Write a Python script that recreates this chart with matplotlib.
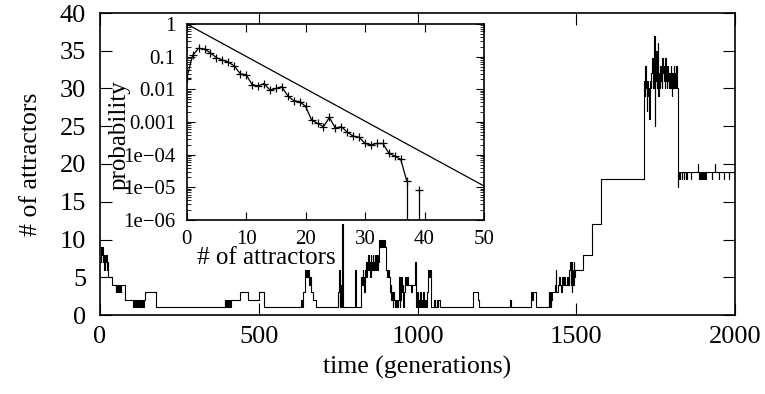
import numpy as np
import matplotlib
matplotlib.use("Agg")
import matplotlib.pyplot as plt
from matplotlib.ticker import LogLocator, NullFormatter, FixedLocator

# ---------------- data ----------------
# time series: change points (generation) and number of attractors (steps-post)
gen = [0, 3, 5, 7, 9, 11, 13, 15, 17, 19, 21, 23, 25, 38, 49, 50, 53, 54, 57, 58, 61, 62, 65, 66, 80,
       105, 107, 109, 111, 113, 116, 118, 121, 124, 127, 130, 133, 136, 139, 141, 176,
       393, 395, 397, 399, 401, 403, 405, 407, 409, 411, 414, 440, 466, 501, 517,
       634, 637, 640, 645, 647, 649, 651, 653, 655, 658, 662, 665, 671, 681,
       750, 752, 755, 757, 759, 762, 764,
       802, 806, 823, 825, 827, 829, 832, 835, 837, 839, 841, 843, 845, 847, 849, 851, 853, 855, 857,
       859, 861, 863, 865, 867, 869, 871, 873, 875, 877, 880, 882, 884, 886, 888, 890, 892, 894, 896,
       898, 901, 905, 908, 910, 912, 914, 916, 918, 920, 922, 924, 926, 928, 930, 932, 935, 937, 940,
       942, 944, 946, 948, 950, 953, 955, 957, 960, 963, 966, 970, 980, 983, 993, 995, 998, 1000, 1003,
       1005, 1008, 1010, 1013, 1015, 1018, 1020, 1023, 1026, 1029, 1032, 1037, 1040, 1043, 1053, 1055,
       1060, 1063, 1065, 1070,
       1174, 1176, 1190, 1193, 1291, 1293, 1357, 1362, 1364, 1373,
       1413, 1415, 1417, 1419, 1421, 1425, 1432, 1435, 1437, 1441, 1445, 1448, 1452, 1455, 1458, 1462,
       1465, 1470, 1474, 1478, 1480, 1482, 1484, 1486, 1488, 1490, 1492, 1494, 1496, 1499, 1522, 1549,
       1578,
       1712, 1714, 1716, 1718, 1720, 1722, 1724, 1726, 1728, 1730, 1732, 1735, 1737, 1739, 1741, 1743,
       1745, 1747, 1749, 1751, 1753, 1755, 1757, 1759, 1761, 1763, 1765, 1767, 1769, 1771, 1773, 1775,
       1777, 1779, 1781, 1783, 1785, 1787, 1789, 1791, 1793, 1795, 1797, 1799, 1801, 1803, 1805, 1807,
       1809, 1811, 1813, 1815, 1817,
       1819, 1821, 1823, 1824, 1827, 1828, 1832, 1833, 1839, 1840, 1845, 1846, 1849, 1850, 1860, 1861,
       1883, 1884, 1887, 1888, 1890, 1892, 1894, 1896, 1898, 1900, 1903, 1904, 1907, 1908, 1928, 1929,
       1937, 1938, 1949, 1950, 1965, 1966, 1981, 1982, 2000]
attractors = [7, 9, 8, 9, 7, 8, 6, 8, 7, 8, 6, 7, 5, 4, 3, 4, 3, 4, 3, 4, 3, 4, 3, 4, 2,
              1, 2, 1, 2, 1, 2, 1, 2, 1, 2, 1, 2, 1, 2, 3, 1,
              2, 1, 2, 1, 2, 1, 2, 1, 2, 1, 2, 3, 2, 3, 1,
              2, 1, 3, 5, 6, 5, 6, 5, 6, 4, 5, 3, 2, 1,
              3, 6, 1, 4, 1, 12, 1,
              6, 1, 5, 4, 6, 5, 3, 6, 7, 5, 7, 6, 8, 6, 7, 5, 8, 6, 7,
              8, 6, 7, 8, 6, 8, 7, 6, 8, 7, 10, 9, 10, 9, 10, 9, 10, 9, 10,
              9, 6, 5, 6, 5, 4, 3, 4, 2, 3, 1, 3, 2, 1, 2, 1, 2, 1, 2,
              5, 1, 2, 5, 3, 4, 1, 3, 5, 4, 5, 4, 3, 4, 7, 1, 3, 1, 2,
              1, 3, 1, 2, 1, 3, 1, 2, 1, 3, 6, 5, 6, 1, 2, 1,
              2, 1, 2, 1,
              2, 3, 2, 1, 2, 1, 3, 2, 3, 1,
              3, 1, 3, 1, 2, 3, 4, 6, 3, 4, 5, 4, 3, 5, 4, 5,
              4, 5, 4, 6, 7, 4, 7, 3, 6, 4, 7, 5, 6, 6, 8, 12,
              18,
              30, 31, 29, 33, 30, 27, 31, 29, 30, 26, 31, 30, 32, 34, 30, 30,
              37, 25, 31, 35, 30, 32, 36, 29, 32, 30, 33, 31, 30, 34, 32, 31,
              33, 30, 34, 31, 30, 33, 31, 30, 32, 30, 33, 31, 29, 32, 30, 33,
              30, 32, 30, 33, 30,
              17, 19, 18, 19, 18, 19, 18, 19, 18, 19, 18, 19, 18, 19, 18, 19,
              20, 19, 18, 19, 18, 19, 18, 19, 18, 19, 18, 19, 18, 19, 18, 19,
              20, 19, 18, 19, 18, 19, 18, 19, 19]

# inset: probability distribution of # of attractors
n_attr = list(range(0, 38))
prob = [0.022, 0.11, 0.18, 0.17, 0.13, 0.093, 0.079, 0.068, 0.052, 0.030,
        0.028, 0.014, 0.0126, 0.015, 0.0095, 0.0107, 0.012, 0.0063, 0.0045, 0.0042,
        0.0030, 0.00115, 0.00091, 0.00072, 0.00138, 0.00065, 0.00072, 0.00049, 0.00037, 0.00034,
        0.00022, 0.0002, 0.00022, 0.00022, 0.00011, 0.000091, 0.000072, 0.0000158]
isolated_n = [39]
isolated_p = [0.0000083]
ref_n = [0, 50]
ref_p = [1.0, 1.1e-5]

inset_yticks = [1, 0.1, 0.01, 0.001, 1e-4, 1e-5, 1e-6]
inset_yticklabels = ["1", "0.1", "0.01", "0.001", "1e\u221204", "1e\u221205", "1e\u221206"]
inset_xticks = [0, 10, 20, 30, 40, 50]
main_xticks = [0, 500, 1000, 1500, 2000]
main_yticks = [0, 5, 10, 15, 20, 25, 30, 35, 40]

# ---------------- figure ----------------
plt.rcParams['font.family'] = ['Liberation Serif', 'DejaVu Serif']

MAIN_FS = 19
LABEL_FS = 18.5
INSET_TICK_FS = 15
INSET_LABEL_FS = 18

fig = plt.figure(figsize=(7.65, 3.94), dpi=100)
ax = fig.add_axes([100/765, 1-315/394, 635/765, 302/394])
ax.plot(gen, attractors, drawstyle='steps-post', color='black', lw=0.8)
ax.set_xlim(0, 2000)
ax.set_ylim(0, 40)
ax.set_xticks(main_xticks)
ax.set_yticks(main_yticks)
ax.tick_params(direction='in', top=True, right=True, length=8.5, width=0.8, labelsize=MAIN_FS)
ax.tick_params(axis='y', pad=10)
ax.tick_params(axis='x', pad=8)
for s in ax.spines.values():
    s.set_linewidth(1.2)
ax.set_xlabel("time (generations)", fontsize=LABEL_FS)
ax.set_ylabel("# of attractors", fontsize=LABEL_FS)
ax.xaxis.set_label_coords(0.5, -0.135)
ax.yaxis.set_label_coords(-0.092, 0.5)

# inset
axi = fig.add_axes([186.7/765, 1-220/394, 297.3/765, 196/394])
axi.set_facecolor('white')
axi.set_yscale('log')
axi.plot(ref_n, ref_p, color='black', lw=0.9)
axi.plot(n_attr, prob, color='black', lw=0.9, marker='+', ms=6, mew=0.9)
axi.vlines([n_attr[-1]], 1e-6, [prob[-1]], color='black', lw=0.9)
axi.plot(isolated_n, isolated_p, ls='none', marker='+', ms=6, mew=0.9, color='black')
axi.vlines(isolated_n, 1e-6, isolated_p, color='black', lw=0.9)
axi.set_xlim(0, 50)
axi.set_ylim(1e-6, 1)
axi.set_xticks(inset_xticks)
axi.yaxis.set_major_locator(FixedLocator(inset_yticks))
axi.set_yticklabels(inset_yticklabels)
axi.yaxis.set_minor_locator(LogLocator(base=10, subs=np.arange(2, 10), numticks=20))
axi.yaxis.set_minor_formatter(NullFormatter())
axi.tick_params(which='major', direction='in', top=True, right=True, length=6, width=0.8,
                labelsize=INSET_TICK_FS)
axi.tick_params(which='minor', direction='in', left=True, right=True, length=3, width=0.6)
axi.tick_params(axis='y', pad=8)
axi.tick_params(axis='x', pad=7)
for s in axi.spines.values():
    s.set_linewidth(1.2)
axi.set_xlabel("# of attractors", fontsize=INSET_LABEL_FS)
axi.set_ylabel("probability", fontsize=INSET_LABEL_FS)
axi.xaxis.set_label_coords(0.267, -0.138)
axi.yaxis.set_label_coords(-0.19, 0.434)

fig.savefig("out.png", dpi=100)
